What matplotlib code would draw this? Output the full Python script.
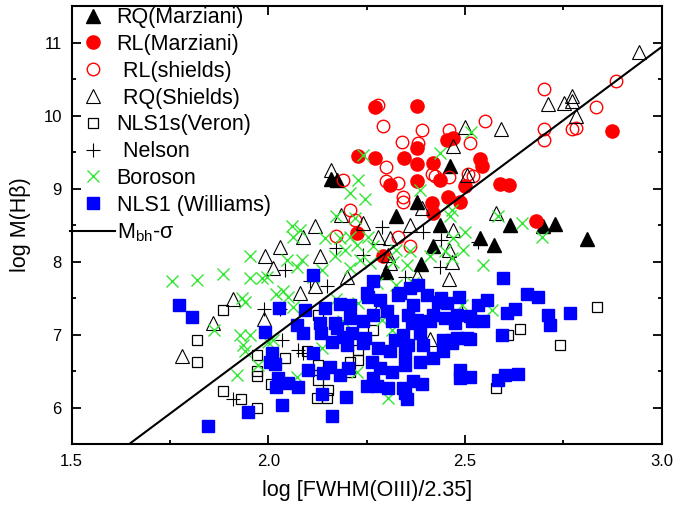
import numpy as np
import matplotlib
matplotlib.use("Agg")
import matplotlib.pyplot as plt
from matplotlib.ticker import MultipleLocator

plt.rcParams['font.family'] = ['Liberation Sans', 'DejaVu Sans']
plt.rcParams['mathtext.default'] = 'regular'

# ── data (x = log[FWHM(OIII)/2.35], y = log M(Hb)) ──
rq_marziani_x = [2.159, 2.175, 2.462, 2.377, 2.326, 2.436, 2.42, 2.388, 2.299,
                 2.614, 2.699, 2.73, 2.809, 2.538, 2.575]
rq_marziani_y = [9.13, 9.12, 9.31, 8.82, 8.63, 8.50, 8.21, 7.96, 7.85,
                 8.50, 8.48, 8.52, 8.31, 8.32, 8.22]

rl_marziani_x = [2.271, 2.377, 2.47, 2.455, 2.377, 2.229, 2.271, 2.345, 2.538,
                 2.544, 2.873, 2.377, 2.419, 2.309, 2.377, 2.436, 2.458, 2.487,
                 2.415, 2.419, 2.225, 2.292, 2.5, 2.589, 2.613, 2.68]
rl_marziani_y = [10.12, 10.13, 9.69, 9.67, 9.55, 9.44, 9.42, 9.42, 9.40,
                 9.31, 9.79, 9.34, 9.35, 9.05, 9.10, 9.12, 8.89, 8.82,
                 8.80, 8.66, 8.39, 8.07, 9.04, 9.06, 9.05, 8.56]

rl_shields_x = [2.28, 2.291, 2.39, 2.46, 2.341, 2.381, 2.513, 2.70, 2.883,
                2.832, 2.551, 2.70, 2.771, 2.782, 2.70, 2.19, 2.30, 2.30,
                2.33, 2.342, 2.342, 2.415, 2.423, 2.46, 2.208, 2.22, 2.172,
                2.33, 2.36, 2.508, 2.52]
rl_shields_y = [10.15, 9.85, 9.80, 9.80, 9.64, 9.63, 9.62, 10.36, 10.47,
                10.11, 9.93, 9.82, 9.82, 9.83, 9.67, 9.12, 9.30, 9.10,
                9.07, 8.89, 8.81, 9.20, 9.17, 9.16, 8.71, 8.57, 8.35,
                8.33, 8.21, 9.20, 9.17]

rq_shields_x = [2.942, 2.71, 2.752, 2.773, 2.773, 2.781, 2.5, 2.592, 2.47,
                2.159, 2.186, 2.119, 2.089, 2.03, 1.992, 2.011, 2.131, 2.24,
                2.28, 2.31, 2.36, 2.39, 2.47, 2.46, 2.305, 2.309, 2.199,
                2.46, 2.377, 2.081, 2.119, 2.504, 1.91, 2.58, 2.466, 1.86,
                1.78, 1.989, 2.28, 2.411]
rq_shields_y = [10.87, 10.16, 10.17, 10.27, 10.20, 10.0, 9.84, 9.82, 9.58,
                9.26, 8.64, 8.49, 8.33, 8.20, 8.08, 7.91, 8.07, 8.53,
                8.34, 8.32, 8.50, 8.73, 8.43, 8.16, 8.09, 7.98, 7.79,
                7.76, 7.80, 7.57, 7.66, 9.19, 7.49, 8.67, 8.00, 7.16,
                6.70, 7.21, 7.33, 6.94]

veron_x = [1.884, 1.82, 1.82, 1.884, 1.93, 1.972, 1.972, 1.972, 1.972, 2.006,
           2.043, 2.098, 2.127, 2.127, 2.153, 2.123, 2.149, 2.208, 2.229, 2.229,
           2.208, 2.127, 2.267, 2.835, 2.742, 2.64, 2.61, 2.58, 2.479]
veron_y = [7.34, 6.93, 6.62, 6.23, 6.12, 6.00, 6.72, 6.43, 6.50, 6.32,
           6.68, 6.77, 6.58, 6.38, 6.24, 6.13, 6.13, 6.63, 6.65, 6.79,
           6.49, 7.27, 7.06, 7.38, 6.85, 7.07, 7.00, 6.27, 7.38]

nelson_x = [2.288, 2.173, 2.241, 2.436, 2.347, 2.043, 2.106, 2.149, 2.44,
            2.394, 2.534, 1.989, 2.03, 1.91, 2.034, 2.076, 2.089]
nelson_y = [8.47, 8.18, 8.09, 7.92, 7.79, 7.89, 7.73, 7.66, 8.30,
            8.41, 8.27, 7.35, 7.35, 6.12, 6.93, 6.79, 6.74]

boroson_x = [1.82, 1.886, 1.954, 1.954, 1.983, 1.933, 2.241, 2.229, 2.208, 2.247,
             2.173, 2.22, 2.06, 2.081, 2.064, 2.144, 2.182, 2.208, 2.254, 2.169,
             2.195, 2.225, 2.267, 2.085, 2.072, 2.047, 1.996, 2.038, 2.115, 2.136,
             2.208, 2.233, 2.259, 2.326, 2.318, 2.352, 2.36, 2.411, 2.449, 2.462,
             2.466, 2.495, 2.47, 2.436, 2.277, 2.326, 2.369, 2.385, 2.5, 2.516,
             2.585, 2.644, 2.695, 2.546, 2.466, 1.941, 1.862, 1.928, 1.954, 1.937,
             1.941, 1.975, 1.92, 2.0, 2.064, 2.013, 2.136, 2.072, 2.225, 2.305,
             2.173, 2.229, 2.314, 2.29, 2.492, 2.19, 2.568, 1.755, 2.02, 2.05]
boroson_y = [7.74, 7.83, 8.08, 7.77, 7.78, 7.50, 9.46, 9.12, 8.94, 8.85,
             8.62, 8.59, 8.48, 8.43, 8.34, 8.32, 8.32, 8.34, 8.34, 8.07,
             8.16, 8.23, 8.21, 8.02, 7.93, 8.02, 7.79, 7.59, 7.79, 7.89,
             7.91, 8.02, 7.98, 8.16, 8.00, 7.95, 8.14, 8.07, 8.14, 8.62,
             8.71, 8.16, 8.32, 9.48, 7.70, 7.68, 7.70, 8.98, 8.40, 9.78,
             8.62, 8.53, 8.33, 7.95, 8.05, 7.45, 7.06, 7.00, 7.00, 6.86,
             6.77, 6.58, 6.45, 6.90, 7.38, 6.93, 6.81, 6.42, 6.49, 6.13,
             7.48, 7.43, 7.06, 7.20, 7.41, 7.18, 7.34, 7.73, 7.55, 7.52]

williams_x = [1.774, 1.805, 1.991, 2.01, 2.004, 2.016, 2.026, 2.02, 1.949, 1.846,
              2.028, 2.093, 2.144, 2.182, 2.208, 2.254, 2.284, 2.33, 2.369, 2.403,
              2.432, 2.454, 2.485, 2.072, 2.088, 2.131, 2.135, 2.169, 2.161, 2.19,
              2.208, 2.199, 2.241, 2.245, 2.241, 2.267, 2.301, 2.314, 2.356, 2.377,
              2.411, 2.449, 2.479, 2.474, 2.504, 2.386, 2.343, 2.321, 2.356, 2.394,
              2.445, 2.466, 2.445, 2.419, 2.386, 2.347, 2.347, 2.309, 2.28, 2.263,
              2.284, 2.314, 2.267, 2.25, 2.276, 2.305, 2.343, 2.369, 2.39, 2.347,
              2.352, 2.203, 2.182, 2.157, 2.14, 2.115, 2.102, 2.198, 2.136, 2.161,
              2.034, 2.051, 2.076, 2.487, 2.487, 2.479, 2.174, 2.212, 2.365, 2.42,
              2.555, 2.534, 2.657, 2.686, 2.627, 2.606, 2.712, 2.716, 2.767, 2.513,
              2.517, 2.546, 2.593, 2.513, 2.466, 2.513, 2.602, 2.585, 2.636, 2.596,
              2.115, 2.267, 2.335, 2.36, 2.381, 2.44, 2.25]
williams_y = [7.40, 7.24, 7.03, 6.75, 6.62, 6.60, 6.40, 6.28, 5.94, 5.75,
              7.36, 7.33, 7.36, 7.42, 7.41, 7.52, 7.47, 7.54, 7.41, 7.54,
              7.45, 7.43, 7.51, 7.13, 7.02, 7.16, 7.02, 7.16, 6.90, 6.97,
              7.22, 6.86, 7.18, 6.95, 6.88, 7.27, 7.32, 7.19, 7.27, 7.20,
              7.18, 7.22, 7.27, 7.16, 6.95, 7.02, 7.00, 6.93, 6.86, 6.86,
              6.93, 6.93, 6.77, 6.68, 6.63, 6.75, 6.58, 6.77, 6.81, 6.63,
              6.54, 6.49, 6.40, 6.29, 6.29, 6.27, 6.27, 6.36, 6.32, 6.20,
              6.11, 6.54, 6.45, 6.56, 6.47, 6.75, 6.52, 6.14, 6.19, 5.89,
              6.04, 6.33, 6.28, 6.52, 6.40, 6.95, 7.09, 7.02, 7.16, 7.27,
              7.47, 7.41, 7.56, 7.52, 7.35, 7.30, 7.27, 7.13, 7.29, 7.26,
              7.19, 7.19, 7.00, 6.94, 6.88, 6.42, 6.44, 6.38, 6.46, 7.78,
              7.82, 7.73, 7.57, 7.64, 7.68, 7.50, 7.57]

# M_bh - sigma relation: log M = slope * x + intercept
MSIG_SLOPE = 4.02
MSIG_INTERCEPT = -1.12
msig_x = np.array([1.5, 3.0])

GREEN = '#33e633'

fig = plt.figure(figsize=(6.76, 5.11), dpi=100)
ax = fig.add_axes([0.1058, 0.1311, 0.8730, 0.8571])

ax.plot(rq_marziani_x, rq_marziani_y, ls='none', marker='^', ms=9.5,
        color='black', label='RQ(Marziani)')
ax.plot(rl_marziani_x, rl_marziani_y, ls='none', marker='o', ms=9.5,
        color='#ff0000', mec='#ff0000', label='RL(Marziani)')
ax.plot(rl_shields_x, rl_shields_y, ls='none', marker='o', ms=9, mfc='none',
        mec='#ff0000', mew=1.0, label=' RL(shields)')
ax.plot(rq_shields_x, rq_shields_y, ls='none', marker='^', ms=9.5, mfc='none',
        mec='black', mew=0.8, label=' RQ(Shields)')
ax.plot(veron_x, veron_y, ls='none', marker='s', ms=7, mfc='none',
        mec='black', mew=0.9, label='NLS1s(Veron)')
ax.plot(nelson_x, nelson_y, ls='none', marker='+', ms=10, color='black',
        mew=0.8, label=' Nelson')
ax.plot(boroson_x, boroson_y, ls='none', marker='x', ms=9, color=GREEN,
        mew=1.0, label='Boroson')
ax.plot(williams_x, williams_y, ls='none', marker='s', ms=8.5, color='#0000ff',
        mec='#0000ff', label='NLS1 (Williams)')
ax.plot(msig_x, MSIG_SLOPE * msig_x + MSIG_INTERCEPT, color='black', lw=1.5,
        label='M$_{bh}$-σ')

ax.set_xlim(1.5, 3.0)
ax.set_ylim(5.5, 11.5)
ax.xaxis.set_major_locator(MultipleLocator(0.5))
ax.xaxis.set_minor_locator(MultipleLocator(0.25))
ax.yaxis.set_major_locator(MultipleLocator(1))
ax.yaxis.set_minor_locator(MultipleLocator(0.5))
ax.tick_params(which='both', direction='in', top=True, right=True,
               labelsize=12, width=1.3)
ax.tick_params(which='major', length=6.5, pad=7)
ax.tick_params(which='minor', length=3)
for sp in ax.spines.values():
    sp.set_linewidth(1.5)

ax.set_xlabel('log [FWHM(OIII)/2.35]', fontsize=15.5, labelpad=8)
ax.set_ylabel('log M(Hβ)', fontsize=15.5, labelpad=9)

ax.legend(loc='upper left', bbox_to_anchor=(-0.004, 1.0), frameon=False,
          fontsize=15.5, handlelength=2.1, handletextpad=0.05,
          labelspacing=0.27, borderaxespad=0.0, borderpad=0.05, numpoints=1)

fig.savefig('out.png', dpi=100)
